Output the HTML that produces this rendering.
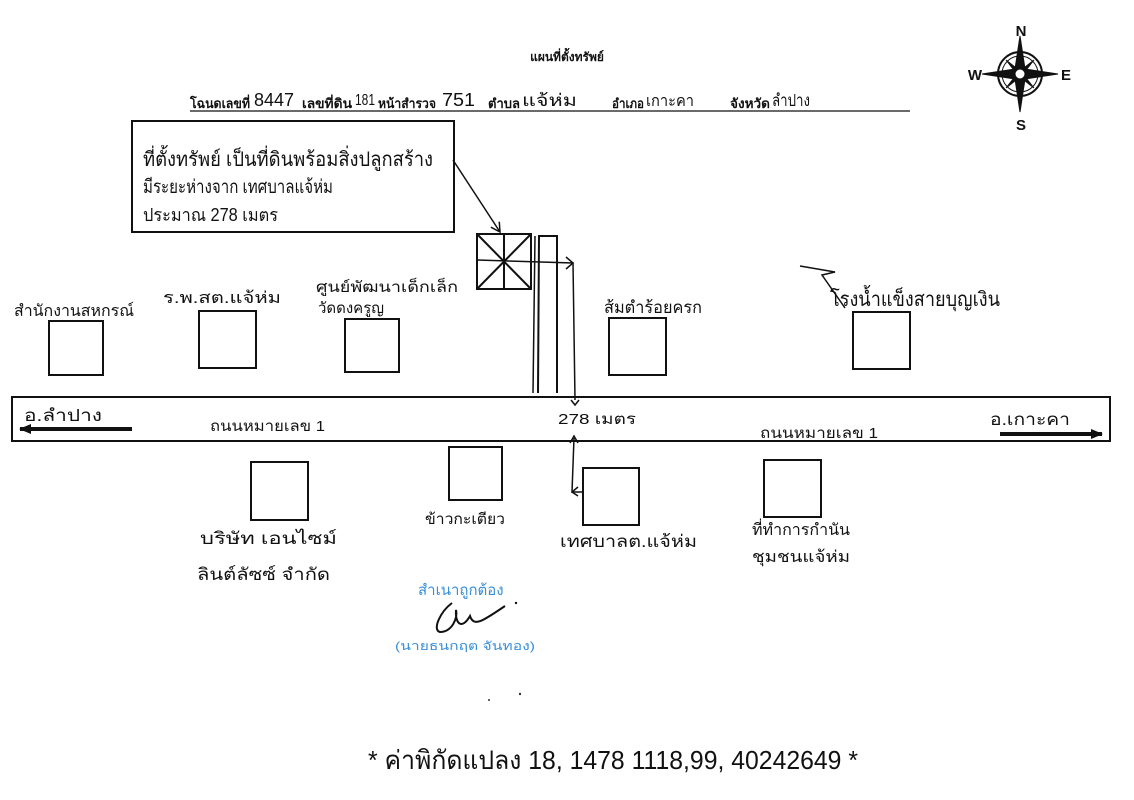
<!DOCTYPE html>
<html><head><meta charset="utf-8"><style>
html,body{margin:0;padding:0;background:#fff;}
svg{display:block}
text{font-family:"Liberation Sans","DejaVu Sans","Noto Sans CJK SC",sans-serif;fill:#111}
.b{fill:#3a8fd8}
</style></head><body>
<svg width="1134" height="800" viewBox="0 0 1134 800" xmlns="http://www.w3.org/2000/svg">
<defs>
<marker id="ah" markerUnits="userSpaceOnUse" markerWidth="12" markerHeight="12" refX="10" refY="6" orient="auto"><path d="M1,1 L10,6 L1,11" fill="none" stroke="#111" stroke-width="1.5"/></marker>
<marker id="ahf" markerUnits="userSpaceOnUse" markerWidth="12" markerHeight="12" refX="11" refY="6" orient="auto"><path d="M0,1 L12,6 L0,11 Z" fill="#111"/></marker>
</defs>
<rect width="1134" height="800" fill="#fff"/>
<text x="567" y="61" text-anchor="middle" style="font-size:12px;font-weight:bold">แผนที่ตั้งทรัพย์</text>
<g style="font-size:13px;font-weight:bold">
<text x="190" y="108" textLength="60" lengthAdjust="spacingAndGlyphs">โฉนดเลขที่</text>
<text x="254" y="106" style="font-size:18px;font-weight:normal" textLength="40" lengthAdjust="spacingAndGlyphs">8447</text>
<text x="302" y="108" textLength="50" lengthAdjust="spacingAndGlyphs">เลขที่ดิน</text>
<text x="355" y="105" style="font-size:16px;font-weight:normal" textLength="20" lengthAdjust="spacingAndGlyphs">181</text>
<text x="378" y="108" textLength="58" lengthAdjust="spacingAndGlyphs">หน้าสำรวจ</text>
<text x="442" y="106" style="font-size:18px;font-weight:normal" textLength="33" lengthAdjust="spacingAndGlyphs">751</text>
<text x="488" y="108" textLength="32" lengthAdjust="spacingAndGlyphs">ตำบล</text>
<text x="522" y="106" style="font-size:17px;font-weight:normal" textLength="55" lengthAdjust="spacingAndGlyphs">แจ้ห่ม</text>
<text x="612" y="108" textLength="32" lengthAdjust="spacingAndGlyphs">อำเภอ</text>
<text x="646" y="106" style="font-size:16px;font-weight:normal" textLength="48" lengthAdjust="spacingAndGlyphs">เกาะคา</text>
<text x="730" y="108" textLength="40" lengthAdjust="spacingAndGlyphs">จังหวัด</text>
<text x="772" y="106" style="font-size:17px;font-weight:normal" textLength="38" lengthAdjust="spacingAndGlyphs">ลำปาง</text>
</g>
<line x1="190" y1="111" x2="910" y2="111" stroke="#111" stroke-width="1.2"/>
<!-- compass -->
<g transform="translate(1020,74)" stroke="#111" fill="#111">
<circle r="22" fill="none" stroke-width="2"/><circle r="18" fill="none" stroke-width="1"/>
<path d="M0,-38 L5,-5 L38,0 L5,5 L0,38 L-5,5 L-38,0 L-5,-5 Z"/>
<path d="M14,-14 L3,0 L14,14 L0,3 L-14,14 L-3,0 L-14,-14 L0,-3 Z"/>
<circle r="5" fill="#fff"/>
</g>
<text x="1021" y="36" text-anchor="middle" style="font-size:15px;font-weight:bold">N</text>
<text x="1021" y="130" text-anchor="middle" style="font-size:15px;font-weight:bold">S</text>
<text x="975" y="80" text-anchor="middle" style="font-size:15px;font-weight:bold">W</text>
<text x="1066" y="80" text-anchor="middle" style="font-size:15px;font-weight:bold">E</text>
<!-- note box -->
<rect x="132" y="121" width="322" height="111" fill="none" stroke="#111" stroke-width="2"/>
<text x="143" y="166" style="font-size:20px" textLength="290" lengthAdjust="spacingAndGlyphs">ที่ตั้งทรัพย์ เป็นที่ดินพร้อมสิ่งปลูกสร้าง</text>
<text x="143" y="193" style="font-size:19px" textLength="190" lengthAdjust="spacingAndGlyphs">มีระยะห่างจาก เทศบาลแจ้ห่ม</text>
<text x="143" y="221" style="font-size:18px" textLength="135" lengthAdjust="spacingAndGlyphs">ประมาณ 278 เมตร</text>
<line x1="453" y1="160" x2="500" y2="232" stroke="#111" stroke-width="1.5" marker-end="url(#ah)"/>
<!-- property -->
<g stroke="#111" stroke-width="2" fill="none">
<rect x="477" y="234" width="54" height="55"/>
<line x1="477" y1="234" x2="531" y2="289"/><line x1="531" y1="234" x2="477" y2="289"/>
<line x1="504" y1="234" x2="504" y2="289"/>
<path d="M538,393 L539,236 L557,236 L557,393"/>
<line x1="533" y1="393" x2="535" y2="236" stroke-width="1.5"/>
<path d="M477,260 L573,263 L575,400" stroke-width="1.5"/>
<path d="M566,257 L573,263 L566,269" stroke-width="1.5"/>
<path d="M571,400 L575,405 L579,400" stroke-width="1.5"/>
</g>
<!-- top buildings -->
<g stroke="#111" stroke-width="2" fill="none">
<rect x="49" y="321" width="54" height="54"/>
<rect x="199" y="311" width="57" height="57"/>
<rect x="345" y="319" width="54" height="53"/>
<rect x="609" y="318" width="57" height="57"/>
<rect x="853" y="312" width="57" height="57"/>
<path d="M800,266 L835,272 L822,275 L845,308" stroke-width="1.5"/>
</g>
<text x="14" y="316" style="font-size:16px" textLength="120" lengthAdjust="spacingAndGlyphs">สำนักงานสหกรณ์</text>
<text x="163" y="303" style="font-size:16px" textLength="118" lengthAdjust="spacingAndGlyphs">ร.พ.สต.แจ้ห่ม</text>
<text x="316" y="292" style="font-size:15px" textLength="142" lengthAdjust="spacingAndGlyphs">ศูนย์พัฒนาเด็กเล็ก</text>
<text x="318" y="313" style="font-size:15px" textLength="66" lengthAdjust="spacingAndGlyphs">วัดดงครูญ</text>
<text x="604" y="313" style="font-size:17px" textLength="98" lengthAdjust="spacingAndGlyphs">ส้มตำร้อยครก</text>
<text x="830" y="306" style="font-size:20px" textLength="170" lengthAdjust="spacingAndGlyphs">โรงน้ำแข็งสายบุญเงิน</text>
<!-- road -->
<rect x="12" y="397" width="1098" height="44" fill="none" stroke="#111" stroke-width="2"/>
<text x="24" y="421" style="font-size:17px" textLength="78" lengthAdjust="spacingAndGlyphs">อ.ลำปาง</text>
<line x1="132" y1="429" x2="20" y2="429" stroke="#111" stroke-width="4" marker-end="url(#ahf)"/>
<text x="990" y="425" style="font-size:17px" textLength="80" lengthAdjust="spacingAndGlyphs">อ.เกาะคา</text>
<line x1="1000" y1="434" x2="1102" y2="434" stroke="#111" stroke-width="4" marker-end="url(#ahf)"/>
<text x="210" y="431" style="font-size:15px" textLength="115" lengthAdjust="spacingAndGlyphs">ถนนหมายเลข 1</text>
<text x="760" y="438" style="font-size:15px" textLength="118" lengthAdjust="spacingAndGlyphs">ถนนหมายเลข 1</text>
<text x="558" y="424" style="font-size:15px" textLength="78" lengthAdjust="spacingAndGlyphs">278 เมตร</text>
<!-- bottom buildings -->
<g stroke="#111" stroke-width="2" fill="none">
<rect x="251" y="462" width="57" height="58"/>
<rect x="449" y="447" width="53" height="53"/>
<rect x="583" y="468" width="56" height="57"/>
<rect x="764" y="460" width="57" height="57"/>
<path d="M574,438 L572,492 L583,492" stroke-width="1.5"/>
<path d="M570,443 L574,436 L578,443" stroke-width="1.5"/>
<path d="M578,487 L572,492 L578,496" stroke-width="1.5"/>
</g>
<text x="200" y="544" style="font-size:17px" textLength="137" lengthAdjust="spacingAndGlyphs">บริษัท เอนไซม์</text>
<text x="197" y="580" style="font-size:17px" textLength="133" lengthAdjust="spacingAndGlyphs">ลินต์ลัซซ์ จำกัด</text>
<text x="425" y="524" style="font-size:15px" textLength="80" lengthAdjust="spacingAndGlyphs">ข้าวกะเตียว</text>
<text x="560" y="547" style="font-size:17px" textLength="137" lengthAdjust="spacingAndGlyphs">เทศบาลต.แจ้ห่ม</text>
<text x="752" y="535" style="font-size:16px" textLength="98" lengthAdjust="spacingAndGlyphs">ที่ทำการกำนัน</text>
<text x="752" y="562" style="font-size:16px" textLength="98" lengthAdjust="spacingAndGlyphs">ชุมชนแจ้ห่ม</text>
<!-- stamp -->
<text x="418" y="595" class="b" style="font-size:15px">สำเนาถูกต้อง</text>
<path d="M452,603 C440,612 432,630 440,632 C452,632 458,618 456,610 C455,624 462,630 470,616 C474,628 484,620 505,606" fill="none" stroke="#111" stroke-width="2"/>
<circle cx="516" cy="603" r="1.2" fill="#111"/>
<text x="395" y="650" class="b" style="font-size:12px" textLength="140" lengthAdjust="spacingAndGlyphs">(นายธนกฤต  จันทอง)</text>
<circle cx="489" cy="700" r="1" fill="#333"/><circle cx="520" cy="694" r="1.2" fill="#333"/>
<!-- coords -->
<text x="368" y="769" style="font-size:26px" textLength="490" lengthAdjust="spacingAndGlyphs">* ค่าพิกัดแปลง  18, 1478 1118,99, 40242649  *</text>
</svg>
</body></html>
